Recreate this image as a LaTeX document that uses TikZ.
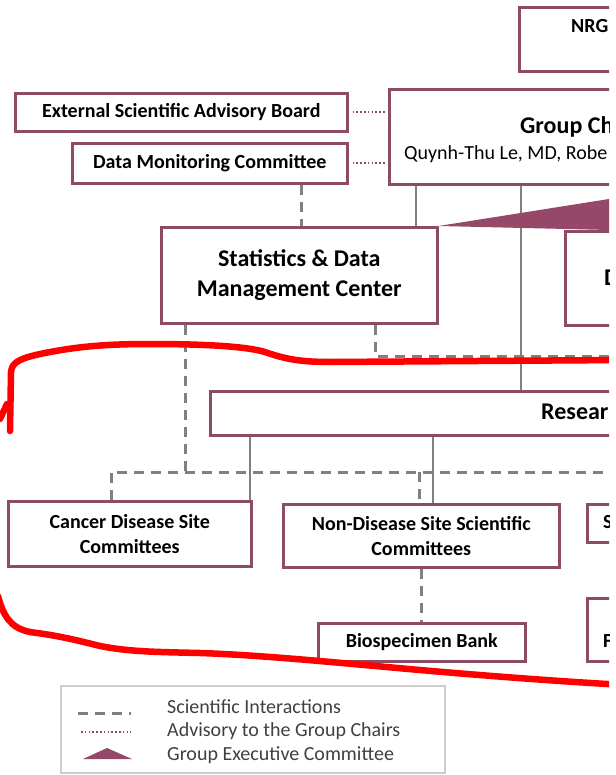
\documentclass[tikz,border=0pt]{standalone}
\usepackage{fontspec}
\setmainfont{Carlito}
\usetikzlibrary{calc}
\pgfdeclarelayer{background}
\pgfsetlayers{background,main}
\definecolor{maroon}{RGB}{140,76,102}
\definecolor{trifill}{RGB}{150,72,104}
\definecolor{lgray}{RGB}{128,128,128}
\definecolor{legtext}{RGB}{64,64,64}
\definecolor{legframe}{RGB}{205,205,205}
\definecolor{redmark}{RGB}{255,0,0}
\begin{document}
\begin{tikzpicture}[x=1pt,y=-1pt,
  box/.style={draw=maroon, line width=2.6pt, fill=white, rectangle, inner sep=0pt,
    anchor=north west, align=center, font=\bfseries\fontsize{20}{25}\selectfont},
  bigbox/.style={box, font=\bfseries\fontsize{24}{30}\selectfont},
  lbl/.style={inner sep=0pt, anchor=west, font=\bfseries\fontsize{20}{24}\selectfont},
  biglbl/.style={lbl, font=\bfseries\fontsize{24}{28}\selectfont},
  conn/.style={draw=lgray, line width=2.3pt},
  sci/.style={draw=lgray, line width=3pt, dash pattern=on 10pt off 7pt},
  adv/.style={draw=maroon, line width=2pt, dash pattern=on 1.5pt off 2.3pt},
  legtxt/.style={inner sep=0pt, anchor=west, text=legtext, font=\fontsize{20}{24}\selectfont},
  redline/.style={draw=redmark, line width=6.5pt, line cap=round, line join=round},
]
\useasboundingbox (0,0) rectangle (615,775);
\clip (0,0) rectangle (609,775);

% ---- coordinates for connectors
\coordinate (busL) at (111,472);
\coordinate (busR) at (625,472);
\coordinate (sdr) at (375,356);
\coordinate (sdrR) at (625,356);

% ---- boxes
\node[box, minimum width=300pt, minimum height=64pt] (nrg) at (518,6) {};
\node[box, minimum width=320pt, minimum height=95pt] (gc) at (388,88) {};
\node[box, minimum width=332pt, minimum height=38pt] (esab) at (14,92) {External Scientific Advisory Board};
\node[box, minimum width=275pt, minimum height=40pt] (dmc) at (71,142) {Data Monitoring Committee};
\node[bigbox, minimum width=276pt, minimum height=96pt] (sdmc) at (160,226) {Statistics \& Data\\Management Center};
\node[box, minimum width=200pt, minimum height=94pt] (dbox) at (564,230) {};
\node[box, minimum width=500pt, minimum height=44pt] (res) at (209,390) {};
\node[box, minimum width=243pt, minimum height=65pt] (cds) at (7,500) {Cancer Disease Site\\Committees};
\node[box, minimum width=276pt, minimum height=63pt] (nds) at (282,503) {Non-Disease Site Scientific\\Committees};
\node[box, minimum width=207pt, minimum height=38pt] (bio) at (317,622) {Biospecimen Bank};
\node[box, minimum width=200pt, minimum height=38pt] (sbox) at (586,503) {};
\node[box, minimum width=200pt, minimum height=63pt] (fbox) at (586,597) {};

% ---- connectors behind the boxes
\begin{pgfonlayer}{background}
\fill[white] (0,0) rectangle (615,775);
\begin{scope}
\clip (0,0) rectangle (609,775);
% solid lines
\draw[conn] (gc.south -| 416,0) -- (sdmc.north -| 416,0);
\draw[conn] (gc.south -| 521,0) -- (res.north -| 521,0);
\draw[conn] (res.south -| 250,0) -- (cds.north -| 250,0);
\draw[conn] (res.south -| 433,0) -- (nds.north -| 433,0);
% scientific interactions
\draw[sci] (dmc.south -| 301,0) -- (sdmc.north -| 301,0);
\draw[sci] (sdmc.south -| 185,0) -- (busL -| 185,0);
\draw[sci] (cds.north -| busL) -- (busL) -- (busR);
\draw[sci] (busL -| 419,0) -- (nds.north -| 419,0);
\draw[sci] (sdmc.south -| sdr) -- (sdr) -- (sdrR);
\draw[sci] (nds.south -| 421,0) -- (bio.north -| 421,0);
% group executive committee wedge
\fill[trifill] (sdmc.north east) -- (609,199) -- (609,230) -- cycle;
\end{scope}
\end{pgfonlayer}

% texts of boxes cut by the edge
\node[lbl] (nrgt) at (571,26) {NRG};
\node[biglbl] (gct) at (520,127) {Group Ch};
\node[inner sep=0pt, anchor=west, font=\fontsize{20}{24}\selectfont] (gcn) at (404,154) {Quynh-Thu Le, MD, Robe};
\node[biglbl] (dt) at (604,278) {D};
\node[biglbl] (rest) at (541,412) {Resear};
\node[lbl] (st) at (603,522) {S};
\node[lbl] (ft) at (603,641) {F};

% advisory dotted lines
\draw[adv] ([xshift=4pt]esab.east) -- ([xshift=-2pt]esab.east -| gc.west);
\draw[adv] ([xshift=4pt]dmc.east) -- ([xshift=-2pt]dmc.east -| gc.west);

% legend
\draw[legframe, line width=1.5pt] (61,686) rectangle (445,773);
\coordinate (lg1a) at (78,713);  \coordinate (lg1b) at (131,713);
\coordinate (lg2a) at (81,732);  \coordinate (lg2b) at (131,732);
\draw[sci] (lg1a) -- (lg1b);
\draw[adv] (lg2a) -- (lg2b);
\fill[trifill] (83,759) -- (107,748) -- (132,759) -- cycle;
\node[legtxt] (l1) at (167,707) {Scientific Interactions};
\node[legtxt] (l2) at (167,731) {Advisory to the Group Chairs};
\node[legtxt] (l3) at (167,755) {Group Executive Committee};

% hand-drawn red outline
\draw[redline] (0,419) -- (7,404);
\draw[redline] (10,431) -- (11,372) .. controls (12,362) and (20,358) .. (45,353)
  .. controls (80,346) and (110,344) .. (150,344)
  .. controls (200,344) and (245,346) .. (265,352)
  .. controls (285,359) and (300,362) .. (330,362) -- (625,360);
\draw[redline] (-2,596) .. controls (3,615) and (10,628) .. (30,632) -- (37,633)
  .. controls (60,636) and (80,641) .. (100,646)
  .. controls (130,652) and (160,652) .. (200,653)
  .. controls (260,655) and (330,662) .. (420,670)
  .. controls (500,677) and (570,682) .. (625,685);
\end{tikzpicture}
\end{document}
